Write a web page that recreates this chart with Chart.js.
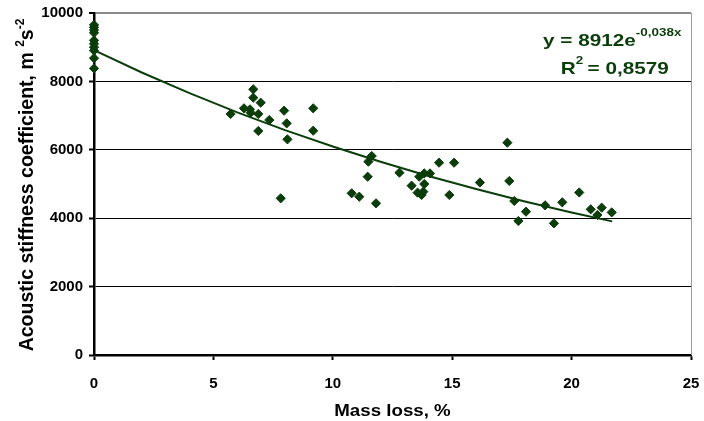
<!DOCTYPE html>
<html>
<head>
<meta charset="utf-8">
<script src="https://cdn.jsdelivr.net/npm/chart.js@4/dist/chart.umd.min.js"></script>
<style>
  html, body { margin: 0; padding: 0; background: #fff; overflow: hidden; }
  #wrap { width: 704px; height: 421px; position: relative; }
</style>
</head>
<body>
<div id="wrap"><canvas id="stiffChart"></canvas></div>
<script>
// measured points: mass loss (%) and acoustic stiffness coefficient
const massLoss = [
  0, 0, 0, 0, 0, 0, 0, 0, 0, 0,
  6.67, 6.67, 6.98, 5.72, 6.28, 6.53, 6.56, 6.88, 7.34, 6.88,
  7.96, 8.07, 8.10, 9.18, 9.18, 7.82,
  17.31, 11.63, 11.49, 11.46, 10.79, 11.11, 11.81, 12.79, 13.30, 13.62,
  13.83, 14.07, 13.83, 13.55, 13.72, 13.79, 14.45, 15.08, 14.88, 16.16,
  17.39, 17.60, 17.77, 18.09, 18.89, 19.26, 19.61, 20.32, 20.80, 21.08,
  21.26, 21.68
];
const stiffness = [
  9650, 9580, 9500, 9420, 9200, 9100, 9000, 8900, 8680, 8380,
  7768, 7524, 7378, 7047, 7213, 7183, 7085, 7047, 6871, 6550,
  7144, 6773, 6305, 7213, 6558, 4582,
  6208, 5819, 5652, 5213, 4728, 4629, 4435, 5331, 4951, 5213,
  5310, 5310, 5000, 4747, 4678, 4776, 5623, 5623, 4678, 5044,
  5088, 4503, 3918, 4191, 4376, 3850, 4464, 4752, 4259, 4094,
  4308, 4170
];

// exponential trend line
const trendX = [0, 2, 4, 6, 8, 10, 12, 14, 16, 18, 20, 21.7];
const trendY = [8912, 8260, 7655, 7095, 6576, 6095, 5649, 5235, 4852, 4497, 4168, 3907];

const xTicks = [0, 5, 10, 15, 20, 25];
const yTicks = [0, 2000, 4000, 6000, 8000, 10000];

const green = '#0b3d0b';

const points = massLoss.map((x, i) => ({ x: x, y: stiffness[i] }));
const trend = trendX.map((x, i) => ({ x: x, y: trendY[i] }));

// draws axis titles (with superscripts), the equation text and right border
const extras = {
  id: 'extras',
  afterDraw(chart) {
    const ctx = chart.ctx;
    const area = chart.chartArea;
    ctx.save();

    // right border of plot area
    ctx.strokeStyle = '#9a9a9a';
    ctx.lineWidth = 1;
    ctx.beginPath();
    ctx.moveTo(area.right + 0.5, area.top);
    ctx.lineTo(area.right + 0.5, area.bottom);
    ctx.stroke();

    // y axis title, rotated
    ctx.fillStyle = '#000';
    ctx.textBaseline = 'alphabetic';
    ctx.translate(33, 185);
    ctx.rotate(-Math.PI / 2);
    const big = 'bold 19.5px "Liberation Sans", Arial, sans-serif';
    const small = 'bold 12px "Liberation Sans", Arial, sans-serif';
    const parts = [
      { t: 'Acoustic stiffness coefficient, m ', f: big, dy: 0 },
      { t: '2', f: small, dy: -9 },
      { t: 's', f: big, dy: 0 },
      { t: '-2', f: small, dy: -9 }
    ];
    let total = 0;
    parts.forEach(p => { ctx.font = p.f; total += ctx.measureText(p.t).width; });
    let cx = -total / 2;
    ctx.textAlign = 'left';
    parts.forEach(p => {
      ctx.font = p.f;
      ctx.fillText(p.t, cx, p.dy);
      cx += ctx.measureText(p.t).width;
    });
    ctx.restore();

    // x axis title
    ctx.save();
    ctx.fillStyle = '#000';
    ctx.font = 'bold 17px "Liberation Sans", Arial, sans-serif';
    ctx.textAlign = 'center';
    ctx.textBaseline = 'middle';
    ctx.translate((area.left + area.right) / 2, 411);
    ctx.scale(1.1, 1);
    ctx.fillText('Mass loss, %', 0, 0);
    ctx.restore();

    // trend equation
    ctx.save();
    ctx.fillStyle = green;
    ctx.textBaseline = 'alphabetic';
    ctx.textAlign = 'left';
    const eqBig = 'bold 17px "Liberation Sans", Arial, sans-serif';
    const eqSmall = 'bold 11px "Liberation Sans", Arial, sans-serif';
    ctx.translate(543, 0);
    ctx.scale(1.22, 1);
    ctx.font = eqBig;
    ctx.fillText('y = 8912e', 0, 46);
    let w = ctx.measureText('y = 8912e').width;
    ctx.font = eqSmall;
    ctx.fillText('-0,038x', w, 36);
    ctx.font = eqBig;
    ctx.fillText('R', 14.5, 74);
    w = ctx.measureText('R').width;
    ctx.font = eqSmall;
    ctx.fillText('2', 14.5 + w, 64);
    ctx.font = eqBig;
    ctx.fillText(' = 0,8579', 14.5 + w + 5, 74);
    ctx.restore();
  }
};

const tickFont = { family: '"Liberation Sans", Arial, sans-serif', size: 15, weight: 'bold' };

new Chart(document.getElementById('stiffChart'), {
  type: 'scatter',
  data: {
    datasets: [
      {
        label: 'trend',
        data: trend,
        showLine: true,
        borderColor: green,
        borderWidth: 2,
        pointRadius: 0,
        fill: false,
        clip: false
      },
      {
        label: 'data',
        data: points,
        pointStyle: 'rectRot',
        pointRadius: 4.6,
        backgroundColor: green,
        borderColor: green,
        borderWidth: 1,
        clip: false
      }
    ]
  },
  options: {
    responsive: true,
    maintainAspectRatio: false,
    animation: false,
    layout: { padding: { left: 0, right: 13, top: 13, bottom: 0 } },
    plugins: {
      legend: { display: false },
      tooltip: { enabled: false }
    },
    scales: {
      x: {
        type: 'linear',
        min: 0,
        max: 25,
        afterBuildTicks: s => { s.ticks = xTicks.map(v => ({ value: v })); },
        afterFit: s => { s.height = 66; s.paddingLeft = 0; s.paddingRight = 0; },
        ticks: { color: '#000', font: tickFont, padding: 15, maxRotation: 0, callback: v => String(v) },
        grid: { drawOnChartArea: false, drawTicks: true, tickLength: 5, tickColor: '#000', tickWidth: 2 },
        border: { display: true, color: '#000', width: 2.5 },
        title: { display: false }
      },
      y: {
        type: 'linear',
        min: 0,
        max: 10000,
        afterBuildTicks: s => { s.ticks = yTicks.map(v => ({ value: v })); },
        afterFit: s => { s.width = 94; s.paddingTop = 0; s.paddingBottom = 0; },
        ticks: { color: '#000', font: tickFont, padding: 6, callback: v => String(v) },
        grid: {
          color: c => c.tick.value === 10000 ? '#8a8a8a' : (c.tick.value === 0 ? 'rgba(0,0,0,0)' : '#000'),
          lineWidth: c => c.tick.value === 10000 ? 2 : 1,
          drawTicks: true,
          tickLength: 5,
          tickColor: '#000',
          tickWidth: 2
        },
        border: { display: true, color: '#000', width: 2.5 },
        title: { display: false }
      }
    }
  },
  plugins: [extras]
});
</script>
</body>
</html>
